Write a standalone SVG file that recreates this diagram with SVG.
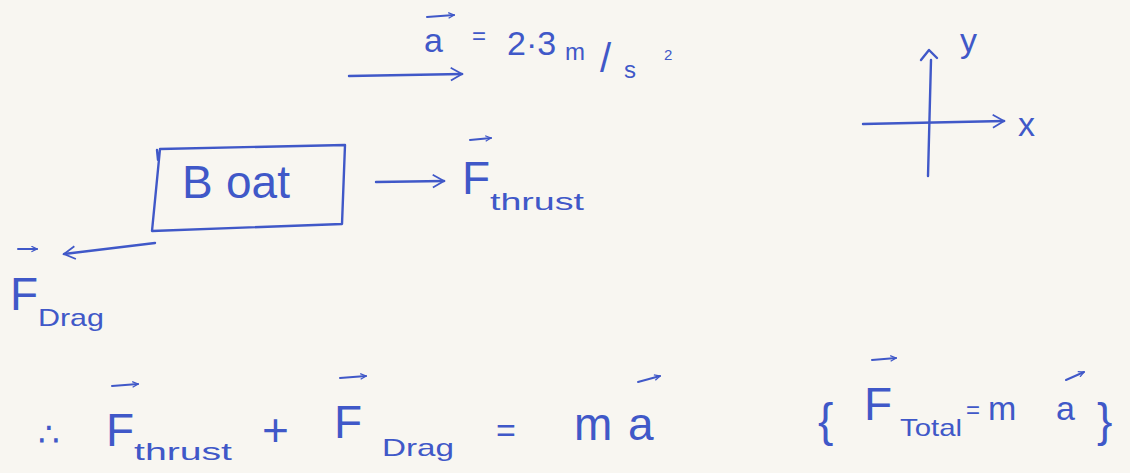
<svg xmlns="http://www.w3.org/2000/svg" width="1130" height="473" viewBox="0 0 1130 473">
<defs>
<marker id="chevS" viewBox="0 0 10 10" refX="9" refY="5" markerWidth="7" markerHeight="7" orient="auto" markerUnits="userSpaceOnUse">
<path d="M1,1 L9,5 L1,9" fill="none" stroke="#4058c8" stroke-width="1.8"/>
</marker>
<marker id="chevL" viewBox="0 0 10 10" refX="9" refY="5" markerWidth="16" markerHeight="16" orient="auto" markerUnits="userSpaceOnUse">
<path d="M2,1 L9,5 L2,9" fill="none" stroke="#4058c8" stroke-width="1.1"/>
</marker>
</defs>
<style>
.ink{fill:none;stroke:#4058c8;stroke-width:2.4;stroke-linecap:round;stroke-linejoin:round}
.vec{fill:none;stroke:#4058c8;stroke-width:2;stroke-linecap:round}
text{font-family:"Liberation Sans","DejaVu Sans",sans-serif;fill:#4058c8}
.big{font-size:46px}
.mid{font-size:34px}
.sub{font-size:24px}
</style>
<rect width="1130" height="473" fill="#f8f6f1"/>

<g id="accel">
<line class="vec" x1="427" y1="17" x2="454" y2="15" marker-end="url(#chevS)"/>
<text class="mid" x="424" y="52">a</text>
<text class="sub" x="472" y="44">=</text>
<text class="mid" x="507" y="55">2·3</text>
<text class="sub" x="565" y="60">m</text>
<text class="mid" x="600" y="72" style="font-size:40px">/</text>
<text class="sub" x="624" y="78">s</text>
<text style="font-size:15px" x="664" y="60">2</text>
</g>

<g id="connectors">
<line class="ink" x1="349" y1="76" x2="462" y2="74" marker-end="url(#chevL)"/>
<line class="ink" x1="376" y1="182" x2="444" y2="181" marker-end="url(#chevL)"/>
<line class="ink" x1="155" y1="243" x2="64" y2="254" marker-end="url(#chevL)"/>
</g>

<g id="boat">
<path class="ink" d="M160,149 L345,145 L342,224 L152,231 Z M157,150 L158,160"/>
<text class="big" x="182" y="198">B</text>
<text class="big" x="226" y="198">oat</text>
</g>

<g id="thrust">
<line class="vec" x1="470" y1="140" x2="491" y2="138" marker-end="url(#chevS)"/>
<text class="big" x="462" y="194">F</text>
<text class="sub" x="490" y="210" textLength="94" lengthAdjust="spacingAndGlyphs">thrust</text>
</g>

<g id="drag">
<line class="vec" x1="18" y1="249" x2="37" y2="249" marker-end="url(#chevS)"/>
<text class="big" x="10" y="310">F</text>
<text class="sub" x="38" y="326" textLength="66" lengthAdjust="spacingAndGlyphs">Drag</text>
</g>

<g id="axes">
<line class="ink" x1="931" y1="60" x2="928" y2="176"/>
<path class="ink" d="M921,60 L929,50 L937,58"/>
<line class="ink" x1="863" y1="124" x2="1004" y2="121" marker-end="url(#chevL)"/>
<text class="mid" x="960" y="52">y</text>
<text class="mid" x="1018" y="136">x</text>
</g>

<g id="equation">
<text class="mid" x="38" y="446">∴</text>
<line class="vec" x1="112" y1="386" x2="138" y2="384" marker-end="url(#chevS)"/>
<text class="big" x="106" y="446">F</text>
<text class="sub" x="134" y="460" textLength="98" lengthAdjust="spacingAndGlyphs">thrust</text>
<text class="big" x="262" y="446">+</text>
<line class="vec" x1="340" y1="378" x2="366" y2="376" marker-end="url(#chevS)"/>
<text class="big" x="334" y="438">F</text>
<text class="sub" x="382" y="456" textLength="72" lengthAdjust="spacingAndGlyphs">Drag</text>
<text class="mid" x="496" y="442">=</text>
<text class="big" x="574" y="440">m</text>
<line class="vec" x1="638" y1="382" x2="660" y2="376" marker-end="url(#chevS)"/>
<text class="big" x="628" y="440">a</text>
</g>

<g id="total">
<text class="big" x="818" y="436">{</text>
<line class="vec" x1="872" y1="360" x2="896" y2="358" marker-end="url(#chevS)"/>
<text class="big" x="864" y="420">F</text>
<text class="sub" x="900" y="436" textLength="62" lengthAdjust="spacingAndGlyphs">Total</text>
<text class="sub" x="966" y="418">=</text>
<text class="mid" x="988" y="420">m</text>
<line class="vec" x1="1066" y1="380" x2="1084" y2="372" marker-end="url(#chevS)"/>
<text class="mid" x="1056" y="420">a</text>
<text class="big" x="1097" y="436">}</text>
</g>
</svg>
